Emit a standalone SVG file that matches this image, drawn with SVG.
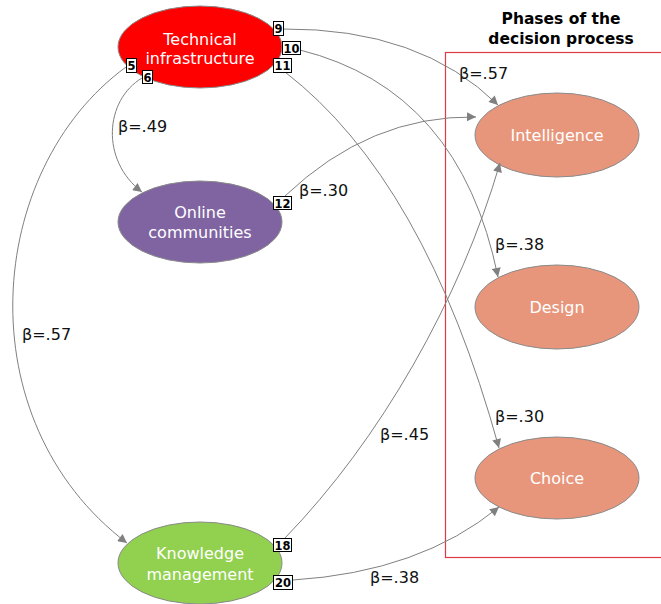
<svg xmlns="http://www.w3.org/2000/svg" width="661" height="604" viewBox="0 0 661 604">
<style>
.node{stroke:#8a8a8a;stroke-width:1}
.nt{font-family:"DejaVu Sans",Verdana,sans-serif;font-size:16px;fill:#ffffff;text-anchor:middle}
.lbl{font-family:"DejaVu Sans",Verdana,sans-serif;font-size:16px;fill:#111111}
.conn{fill:none;stroke:#808080;stroke-width:1}
.nb rect{fill:#ffffff;stroke:#000000;stroke-width:1}
.nb text{font-family:"DejaVu Sans",Verdana,sans-serif;font-size:11.5px;font-weight:bold;fill:#000000;text-anchor:middle}
.title{font-family:"DejaVu Sans",Verdana,sans-serif;font-size:15.5px;font-weight:bold;fill:#000000;text-anchor:middle}
</style>
<defs>
<marker id="arr" viewBox="0 0 10 10" refX="10" refY="5" markerWidth="11" markerHeight="9" markerUnits="userSpaceOnUse" orient="auto">
<path d="M0,0 L10,5 L0,10 z" fill="#808080"/>
</marker>
</defs>
<rect width="661" height="604" fill="#ffffff"/>

<g id="phases">
<rect x="445.5" y="52.5" width="240" height="505" fill="none" stroke="#e03a45" stroke-width="1.2"/>
<text class="title" x="561" y="24">Phases of the</text>
<text class="title" x="561" y="44">decision process</text>
</g>

<g id="technical">
<ellipse class="node" cx="200" cy="47" rx="82" ry="41" fill="#ff0000"/>
<text class="nt" x="200" y="45">Technical</text>
<text class="nt" x="200" y="64">infrastructure</text>
</g>
<g id="online">
<ellipse class="node" cx="200" cy="222" rx="82" ry="41" fill="#8064a2"/>
<text class="nt" x="200" y="218">Online</text>
<text class="nt" x="200" y="238">communities</text>
</g>
<g id="knowledge">
<ellipse class="node" cx="200" cy="563" rx="82" ry="41" fill="#92d050"/>
<text class="nt" x="200" y="559">Knowledge</text>
<text class="nt" x="200" y="580">management</text>
</g>
<g id="intelligence">
<ellipse class="node" cx="557" cy="135" rx="82" ry="42" fill="#e8967b"/>
<text class="nt" x="557" y="141">Intelligence</text>
</g>
<g id="design">
<ellipse class="node" cx="557" cy="307" rx="82" ry="42" fill="#e8967b"/>
<text class="nt" x="557" y="313">Design</text>
</g>
<g id="choice">
<ellipse class="node" cx="557" cy="478" rx="82" ry="41" fill="#e8967b"/>
<text class="nt" x="557" y="484">Choice</text>
</g>

<g id="connectors">
<path class="conn" marker-end="url(#arr)" d="M283,29 Q420,28 498,105"/>
<path class="conn" marker-end="url(#arr)" d="M300,50 Q460,90 498,277"/>
<path class="conn" marker-end="url(#arr)" d="M285,72 Q425,180 499,448"/>
<path class="conn" marker-end="url(#arr)" d="M142,78 C105,100 100,160 142,192"/>
<path class="conn" marker-end="url(#arr)" d="M126,67 C-15,170 -35,420 127,543"/>
<path class="conn" marker-end="url(#arr)" d="M285,196 Q370,115 476,117"/>
<path class="conn" marker-end="url(#arr)" d="M285,538 C380,440 460,300 500,163"/>
<path class="conn" marker-end="url(#arr)" d="M293,580 Q420,572 499,507"/>
<text class="lbl" x="459" y="79">β=.57</text>
<text class="lbl" x="495" y="250">β=.38</text>
<text class="lbl" x="495" y="422">β=.30</text>
<text class="lbl" x="118" y="132">β=.49</text>
<text class="lbl" x="22" y="340">β=.57</text>
<text class="lbl" x="299" y="196">β=.30</text>
<text class="lbl" x="380" y="440">β=.45</text>
<text class="lbl" x="370" y="583">β=.38</text>
</g>

<g id="numbers">
<g class="nb"><rect x="273.5" y="21.5" width="10" height="14"/><text x="278.5" y="33">9</text></g>
<g class="nb"><rect x="282.5" y="41.5" width="18" height="13"/><text x="291.5" y="52.5">10</text></g>
<g class="nb"><rect x="273.5" y="58.5" width="18" height="14"/><text x="282.5" y="70">11</text></g>
<g class="nb"><rect x="126.5" y="58.5" width="10" height="14"/><text x="131.5" y="70">5</text></g>
<g class="nb"><rect x="142.5" y="70.5" width="10" height="13"/><text x="147.5" y="81.5">6</text></g>
<g class="nb"><rect x="273.5" y="196.5" width="18" height="13"/><text x="282.5" y="207.5">12</text></g>
<g class="nb"><rect x="273.5" y="538.5" width="18" height="13"/><text x="282.5" y="549.5">18</text></g>
<g class="nb"><rect x="273.5" y="575.5" width="19" height="14"/><text x="283" y="587">20</text></g>
</g>
</svg>
